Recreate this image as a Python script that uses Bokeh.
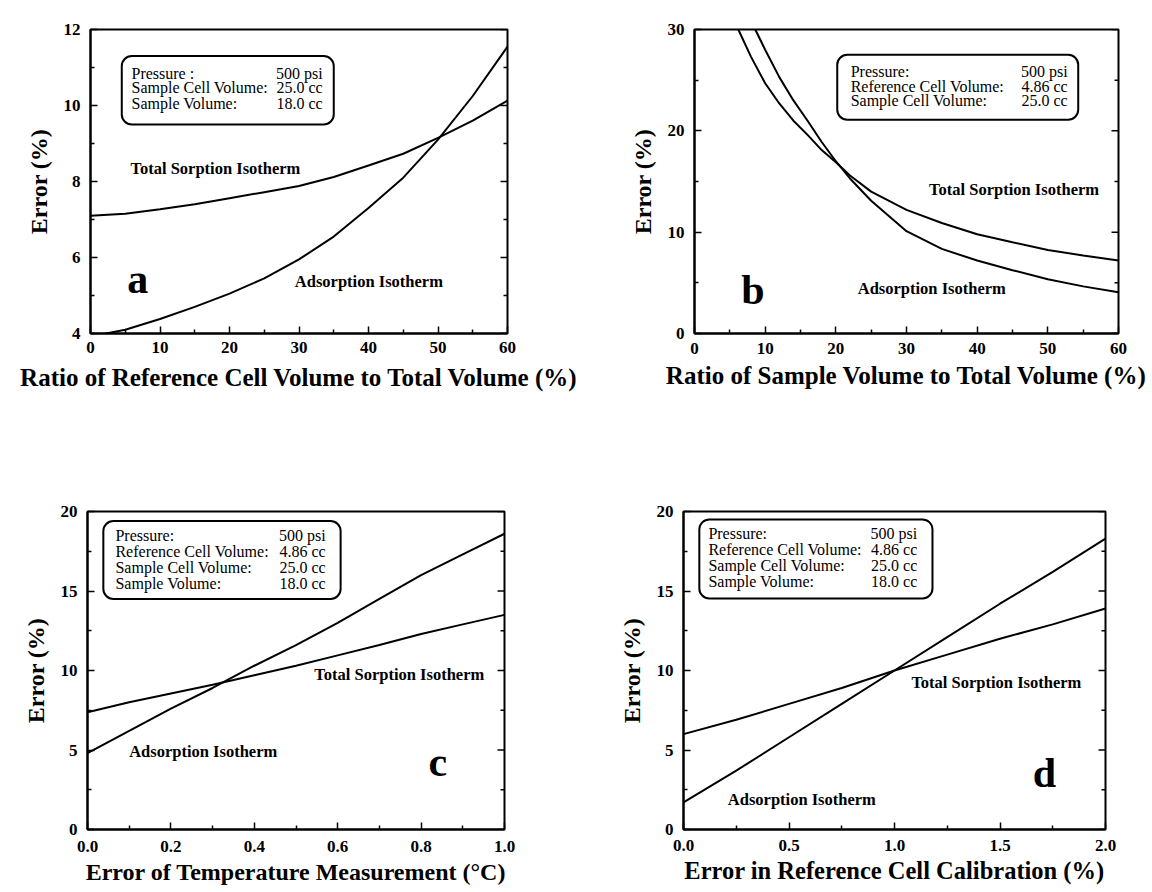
import math
from bokeh.plotting import figure
from bokeh.layouts import column, row
from bokeh.models import Range1d, FixedTicker, BoxAnnotation, PrintfTickFormatter
from bokeh.core.properties import value
from bokeh.embed import file_html
from bokeh.resources import INLINE

FONT = "Liberation Serif"

# ---------------- data ----------------
# panel a
a_x = [0, 5, 10, 15, 20, 25, 30, 35, 40, 45, 50, 55, 60]
a_total = [7.10, 7.15, 7.27, 7.40, 7.56, 7.72, 7.88, 8.12, 8.42, 8.73, 9.15, 9.60, 10.13]
a_adsorp = [3.92, 4.10, 4.38, 4.70, 5.05, 5.45, 5.95, 6.55, 7.30, 8.10, 9.10, 10.25, 11.55]
a_xticks = [0, 10, 20, 30, 40, 50, 60]
a_xminor = [5, 15, 25, 35, 45, 55]
a_xlabels = ["0", "10", "20", "30", "40", "50", "60"]
a_yticks = [4, 6, 8, 10, 12]
a_yminor = [5, 7, 9, 11]
a_ylabels = ["4", "6", "8", "10", "12"]
a_info_keys = ["Pressure :", "Sample Cell Volume:", "Sample Volume:"]
a_info_vals = ["500 psi", "25.0 cc", "18.0 cc"]

# panel b
b_total_x = [6.2, 8, 10, 12, 14, 16, 18, 20, 22, 25, 30, 35, 40, 45, 50, 55, 60]
b_total = [30.0, 27.3, 24.7, 22.7, 21.0, 19.6, 18.1, 16.9, 15.6, 14.0, 12.2, 10.9, 9.8, 9.0, 8.25, 7.7, 7.2]
b_adsorp_x = [8.6, 10, 12, 14, 16, 18, 20, 22, 25, 30, 35, 40, 45, 50, 55, 60]
b_adsorp = [30.0, 28.0, 25.3, 23.0, 21.0, 18.9, 17.0, 15.3, 13.1, 10.1, 8.35, 7.2, 6.25, 5.35, 4.65, 4.07]
b_xticks = [0, 10, 20, 30, 40, 50, 60]
b_xminor = [5, 15, 25, 35, 45, 55]
b_xlabels = ["0", "10", "20", "30", "40", "50", "60"]
b_yticks = [0, 10, 20, 30]
b_yminor = [5, 15, 25]
b_ylabels = ["0", "10", "20", "30"]
b_info_keys = ["Pressure:", "Reference Cell Volume:", "Sample Cell Volume:"]
b_info_vals = ["500 psi", "4.86 cc", "25.0 cc"]

# panel c
c_x = [0.0, 0.1, 0.2, 0.3, 0.4, 0.5, 0.6, 0.7, 0.8, 0.9, 1.0]
c_total = [7.37, 8.0, 8.55, 9.1, 9.7, 10.3, 10.95, 11.6, 12.3, 12.9, 13.5]
c_adsorp = [4.8, 6.2, 7.6, 8.9, 10.3, 11.6, 13.0, 14.5, 16.0, 17.3, 18.6]
c_xticks = [0.0, 0.2, 0.4, 0.6, 0.8, 1.0]
c_xminor = [0.1, 0.3, 0.5, 0.7, 0.9]
c_xlabels = ["0.0", "0.2", "0.4", "0.6", "0.8", "1.0"]
c_yticks = [0, 5, 10, 15, 20]
c_yminor = [2.5, 7.5, 12.5, 17.5]
c_ylabels = ["0", "5", "10", "15", "20"]
c_info_keys = ["Pressure:", "Reference Cell Volume:", "Sample Cell Volume:", "Sample Volume:"]
c_info_vals = ["500 psi", "4.86 cc", "25.0 cc", "18.0 cc"]

# panel d
d_x = [0.0, 0.25, 0.5, 0.75, 1.0, 1.25, 1.5, 1.75, 2.0]
d_total = [6.0, 6.9, 7.9, 8.9, 10.0, 11.0, 12.0, 12.9, 13.9]
d_adsorp = [1.7, 3.7, 5.8, 7.9, 10.0, 12.1, 14.2, 16.2, 18.3]
d_xticks = [0.0, 0.5, 1.0, 1.5, 2.0]
d_xminor = [0.25, 0.75, 1.25, 1.75]
d_xlabels = ["0.0", "0.5", "1.0", "1.5", "2.0"]
d_yticks = [0, 5, 10, 15, 20]
d_yminor = [2.5, 7.5, 12.5, 17.5]
d_ylabels = ["0", "5", "10", "15", "20"]
d_info_keys = ["Pressure:", "Reference Cell Volume:", "Sample Cell Volume:", "Sample Volume:"]
d_info_vals = ["500 psi", "4.86 cc", "25.0 cc", "18.0 cc"]

TOTAL_LABEL = "Total Sorption Isotherm"
ADS_LABEL = "Adsorption Isotherm"
Y_TITLE = "Error (%)"


def style_axis(ax, ticks, minors, labels, fmt):
    ax.ticker = FixedTicker(ticks=ticks, minor_ticks=minors)
    ax.formatter = PrintfTickFormatter(format=fmt)
    ax.major_label_overrides = {t: l for t, l in zip(ticks, labels)}
    ax.axis_line_color = "black"
    ax.axis_line_width = 2
    ax.major_tick_in = 7
    ax.major_tick_out = 0
    ax.minor_tick_in = 4
    ax.minor_tick_out = 0
    ax.major_tick_line_width = 1.5
    ax.minor_tick_line_width = 1.5
    ax.major_tick_line_color = "black"
    ax.minor_tick_line_color = "black"
    ax.major_label_text_font = FONT
    ax.major_label_text_font_size = "17px"
    ax.major_label_text_font_style = "bold"
    ax.major_label_text_color = "black"


def make_panel(cfg):
    p = figure(width=cfg["width"], height=cfg["height"],
               x_range=Range1d(*cfg["xr"]), y_range=Range1d(*cfg["yr"]),
               output_backend="svg", toolbar_location=None,
               min_border_left=cfg["bl"], min_border_right=cfg["br"],
               min_border_top=cfg["bt"], min_border_bottom=cfg["bb"])
    p.background_fill_color = "white"
    p.border_fill_color = "white"
    p.outline_line_color = "black"
    p.outline_line_width = 2
    p.xgrid.visible = False
    p.ygrid.visible = False

    xa = p.xaxis[0]
    ya = p.yaxis[0]
    style_axis(xa, cfg["xticks"], cfg["xminor"], cfg["xlabels"], cfg["xfmt"])
    style_axis(ya, cfg["yticks"], cfg["yminor"], cfg["ylabels"], "%d")
    xa.major_label_standoff = cfg["xls"]
    ya.major_label_standoff = 10
    for ax, lab, st in ((xa, cfg["xtitle"], cfg["xts"]), (ya, Y_TITLE, 9)):
        ax.axis_label = lab
        ax.axis_label_text_font = FONT
        ax.axis_label_text_font_size = cfg["tfs"]
        ax.axis_label_text_font_style = "bold"
        ax.axis_label_text_color = "black"
        ax.axis_label_standoff = st
    ya.axis_label_text_font_size = "24px"

    # inward tick marks on the right edge of the frame
    xmax = cfg["xr"][1]
    p.ray(x=[xmax] * len(cfg["yticks"]), y=cfg["yticks"], length=7, length_units="screen",
          angle=math.pi, line_color="black", line_width=1.5)
    p.ray(x=[xmax] * len(cfg["yminor"]), y=cfg["yminor"], length=4, length_units="screen",
          angle=math.pi, line_color="black", line_width=1.5)

    # curves
    p.line(cfg["tx"], cfg["ty"], line_color="black", line_width=2)
    p.line(cfg["ax"], cfg["ay"], line_color="black", line_width=2)

    # info box
    bx = cfg["box"]
    p.add_layout(BoxAnnotation(left=bx[0], right=bx[1], bottom=bx[2], top=bx[3],
                               fill_color=None, line_color="black", line_alpha=1.0,
                               line_width=2, border_radius=10))
    n = len(cfg["keys"])
    ys = cfg["info_y"][:n]
    p.text(x=[cfg["info_x"][0]] * n, y=ys, text=cfg["keys"],
           text_font=value(FONT), text_font_size="16px", text_color="black",
           text_align="left", text_baseline="middle")
    p.text(x=[cfg["info_x"][1]] * n, y=ys, text=cfg["vals"],
           text_font=value(FONT), text_font_size="16px", text_color="black",
           text_align="right", text_baseline="middle")

    # curve labels
    p.text(x=[cfg["tl"][0], cfg["al"][0]], y=[cfg["tl"][1], cfg["al"][1]],
           text=[TOTAL_LABEL, ADS_LABEL],
           text_font=value(FONT), text_font_size="16.5px", text_font_style="bold",
           text_color="black", text_align="left", text_baseline="middle")
    # panel letter
    p.text(x=[cfg["letter_pos"][0]], y=[cfg["letter_pos"][1]], text=[cfg["letter"]],
           text_font=value(FONT), text_font_size="42px", text_font_style="bold",
           text_color="black", text_align="left", text_baseline="alphabetic")
    return p


pa = make_panel(dict(
    width=598, height=444, bl=90, br=91, bt=29, bb=97,
    xr=(0, 60), yr=(4, 12),
    xticks=a_xticks, xminor=a_xminor, xlabels=a_xlabels, xfmt="%d",
    yticks=a_yticks, yminor=a_yminor, ylabels=a_ylabels,
    xtitle="Ratio of Reference Cell Volume to Total Volume (%)", xls=8, xts=8, tfs="25px",
    tx=a_x, ty=a_total, ax=a_x, ay=a_adsorp,
    box=(4.5, 35.0, 9.5, 11.3), keys=a_info_keys, vals=a_info_vals,
    info_x=(5.9, 33.4), info_y=[10.84, 10.47, 10.06],
    tl=(5.75, 8.33), al=(29.4, 5.36), letter="a", letter_pos=(5.3, 5.43)))

pb = make_panel(dict(
    width=552, height=444, bl=96, br=32, bt=17, bb=111,
    xr=(0, 60), yr=(0, 30),
    xticks=b_xticks, xminor=b_xminor, xlabels=b_xlabels, xfmt="%d",
    yticks=b_yticks, yminor=b_yminor, ylabels=b_ylabels,
    xtitle="Ratio of Sample Volume to Total Volume (%)", xls=9, xts=5, tfs="25px",
    tx=b_total_x, ty=b_total, ax=b_adsorp_x, ay=b_adsorp,
    box=(20.2, 54.3, 21.1, 27.5), keys=b_info_keys, vals=b_info_vals,
    info_x=(22.1, 52.8), info_y=[25.9, 24.4, 22.97],
    tl=(33.2, 14.2), al=(23.1, 4.4), letter="b", letter_pos=(6.6, 4.26)))

pc = make_panel(dict(
    width=598, height=448, bl=87, br=94, bt=65, bb=63,
    xr=(0, 1), yr=(0, 20),
    xticks=c_xticks, xminor=c_xminor, xlabels=c_xlabels, xfmt="%.1f",
    yticks=c_yticks, yminor=c_yminor, ylabels=c_ylabels,
    xtitle="Error of Temperature Measurement (°C)", xls=11, xts=4, tfs="24px",
    tx=c_x, ty=c_total, ax=c_x, ay=c_adsorp,
    box=(0.038, 0.607, 14.5, 19.4), keys=c_info_keys, vals=c_info_vals,
    info_x=(0.067, 0.571), info_y=[18.5, 17.5, 16.5, 15.5],
    tl=(0.544, 9.75), al=(0.10, 4.88), letter="c", letter_pos=(0.818, 4.25)))

pd_ = make_panel(dict(
    width=552, height=448, bl=85, br=45, bt=67, bb=60,
    xr=(0, 2), yr=(0, 20),
    xticks=d_xticks, xminor=d_xminor, xlabels=d_xlabels, xfmt="%.1f",
    yticks=d_yticks, yminor=d_yminor, ylabels=d_ylabels,
    xtitle="Error in Reference Cell Calibration (%)", xls=10, xts=3, tfs="24.5px",
    tx=d_x, ty=d_total, ax=d_x, ay=d_adsorp,
    box=(0.075, 1.18, 14.53, 19.5), keys=d_info_keys, vals=d_info_vals,
    info_x=(0.118, 1.108), info_y=[18.63, 17.64, 16.58, 15.59],
    tl=(1.08, 9.25), al=(0.21, 1.86), letter="d", letter_pos=(1.655, 3.54)))

layout = column(row(pa, pb), row(pc, pd_))
open("out.html", "w").write(file_html(layout, INLINE))
